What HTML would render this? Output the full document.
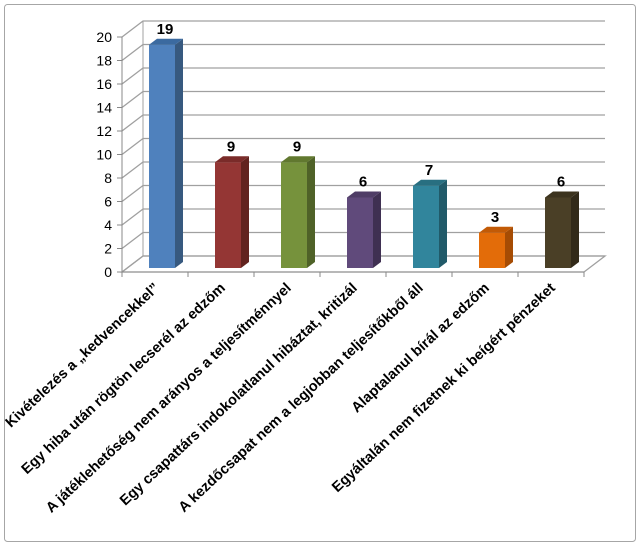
<!DOCTYPE html>
<html><head><meta charset="utf-8"><style>
body{margin:0;background:#fff}
svg{display:block;font-family:"Liberation Sans",sans-serif}
</style></head><body>
<svg width="640" height="549" viewBox="0 0 640 549">
<rect x="4.5" y="4.5" width="631" height="537" rx="3" fill="#fff" stroke="#a6a6a6"/>
<g id="grid"></g>
<g id="axis"></g>
<g id="bars"></g>
<g id="cats"></g>
</svg>
<script>
const categories=["Kivételezés a „kedvencekkel”","Egy hiba után rögtön lecserél az edzőm","A játéklehetőség nem arányos a teljesítménnyel","Egy csapattárs indokolatlanul hibáztat, kritizál","A kezdőcsapat nem a legjobban teljesítőkből áll","Alaptalanul bírál az edzőm","Egyáltalán nem fizetnek ki beígért pénzeket"];
const values=[19,9,9,6,7,3,6];
const yTicks=[0,2,4,6,8,10,12,14,16,18,20];
const fronts=["#4f81bd","#943634","#76923c","#604a7b","#31859c","#e36c09","#4a3f26"];
const sides=["#37597f","#62231f","#4f6228","#3f3052","#215a69","#a64c04","#322a19"];
const tops=["#3b6aa0","#7a2b29","#61782f","#4f3d66","#286f81","#c25a06","#3c331e"];
const NS="http://www.w3.org/2000/svg";
const X0=122,Y0=272,CW=66,DX=21,DY=-16,PX=11.75;
const yF=v=>Y0-v*PX;
const xC=i=>X0+CW*(i+0.5);
function mk(tag,attrs,parent){const e=document.createElementNS(NS,tag);for(const k in attrs)e.setAttribute(k,attrs[k]);parent.appendChild(e);return e;}
const grid=document.getElementById('grid'),axis=document.getElementById('axis'),bars=document.getElementById('bars'),cats=document.getElementById('cats');
const XR=X0+CW*categories.length;
yTicks.forEach(t=>{
  const y=yF(t);
  const l=mk('polyline',{points:`${X0},${y} ${X0+DX},${y+DY} ${XR+DX},${y+DY}`,fill:'none',stroke:'#a0a0a0','stroke-width':1.3},grid);
  
  
  const tk=mk('line',{x1:X0-5,y1:y,x2:X0,y2:y,stroke:'#888'},axis);
  
  
  const tx=mk('text',{x:X0-10,y:y+5,'text-anchor':'end','font-size':14,fill:'#000'},axis);
  tx.textContent=t;
  
  
});
const fl=mk('polygon',{points:`${X0},${Y0} ${X0+DX},${Y0+DY} ${XR+DX},${Y0+DY} ${XR},${Y0}`,fill:'none',stroke:'#a0a0a0','stroke-width':1.3},grid);


const ya=mk('line',{x1:X0,y1:Y0,x2:X0,y2:yF(20),stroke:'#888'},axis);


const yb=mk('line',{x1:X0+DX,y1:Y0+DY,x2:X0+DX,y2:yF(20)+DY,stroke:'#a0a0a0'},axis);


const xa=mk('line',{x1:X0,y1:Y0,x2:XR,y2:Y0,stroke:'#888'},axis);


for(let i=0;i<=categories.length;i++){
  const t=mk('line',{x1:X0+CW*i,y1:Y0,x2:X0+CW*i,y2:Y0+5,stroke:'#888'},axis);
  
  
}
const BW=26,BD=8,BDY=-6,BASE=268;
values.forEach((v,i)=>{
  const x=xC(i)+7-BW/2, yt=BASE-v*PX;
  const g=mk('g',{},bars);
  
  
  mk('rect',{x:x,y:yt,width:BW,height:BASE-yt,fill:fronts[i]},g);
  mk('polygon',{points:`${x+BW},${yt} ${x+BW+BD},${yt+BDY} ${x+BW+BD},${BASE+BDY} ${x+BW},${BASE}`,fill:sides[i]},g);
  mk('polygon',{points:`${x},${yt} ${x+BD},${yt+BDY} ${x+BW+BD},${yt+BDY} ${x+BW},${yt}`,fill:tops[i]},g);
  const lb=mk('text',{x:x+BW/2+3,y:yt-11,'text-anchor':'middle','font-size':15,'font-weight':'bold',fill:'#000'},bars);
  lb.textContent=v;
  
  
});
categories.forEach((c,i)=>{
  const x=xC(i)+5,y=289;
  const t=mk('text',{x:x,y:y,'text-anchor':'end','font-size':14.5,'font-weight':'600',fill:'#000',transform:`rotate(-43 ${x} ${y})`},cats);
  t.textContent=c;
  
  
});
</script>
</body></html>
